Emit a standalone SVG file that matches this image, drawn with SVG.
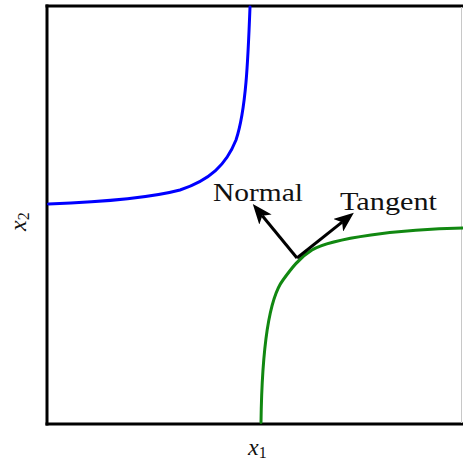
<svg xmlns="http://www.w3.org/2000/svg" width="463" height="462" viewBox="0 0 463 462">
<style>
.axis{stroke:#000;stroke-width:3;fill:none}
.curve{fill:none;stroke-width:3;stroke-linecap:round}
.arr{stroke:#000;stroke-width:3;fill:none}
.lbl{font-family:"Liberation Serif","DejaVu Serif",serif;fill:#111}
.var{font-family:"Liberation Serif","DejaVu Serif",serif;font-style:italic;fill:#111}
</style>
<defs>
<marker id="head" viewBox="0 0 20 16" refX="5" refY="8" markerWidth="20" markerHeight="16" markerUnits="userSpaceOnUse" orient="auto">
<path d="M0,0 L20,8 L0,16 L5,8 z" fill="#000"/>
</marker>
</defs>
<rect width="463" height="462" fill="#fff"/>
<g id="frame">
<line class="axis" x1="47" y1="4.5" x2="47" y2="425.5"/>
<line class="axis" x1="45.5" y1="6" x2="463" y2="6"/>
<line class="axis" x1="45.5" y1="424" x2="463" y2="424"/>
<line x1="461.5" y1="7" x2="461.5" y2="423" stroke="#c8c8c8" stroke-width="1"/>
</g>
<g id="blue-curve">
<path class="curve" stroke="#0000ff" d="M250,7 C248,60 246,110 236,140 C226,165 210,180 180,190 C150,198 100,202 48.5,204"/>
</g>
<g id="green-curve">
<path class="curve" stroke="#118811" d="M261,422.5 C262,350 268,300 283,280 C291,269 299,258 312,250 C331,238.3 400,229 463,228"/>
</g>
<g id="connectors">
<line class="arr" x1="297" y1="258" x2="262.3" y2="215.7" marker-end="url(#head)"/>
<line class="arr" x1="297" y1="258" x2="342.1" y2="222.2" marker-end="url(#head)"/>
</g>
<g id="label-normal"><text class="lbl" x="213" y="201" font-size="26" textLength="90" lengthAdjust="spacingAndGlyphs">Normal</text></g>
<g id="label-tangent"><text class="lbl" x="340" y="210" font-size="26" textLength="97" lengthAdjust="spacingAndGlyphs">Tangent</text></g>
<g id="label-x1"><text class="var" x="248" y="455" font-size="24">x<tspan font-style="normal" font-size="16" dy="3">1</tspan></text></g>
<g id="label-x2"><text class="var" transform="translate(26,231) rotate(-90)" font-size="24">x<tspan font-style="normal" font-size="16" dy="3">2</tspan></text></g>
</svg>
